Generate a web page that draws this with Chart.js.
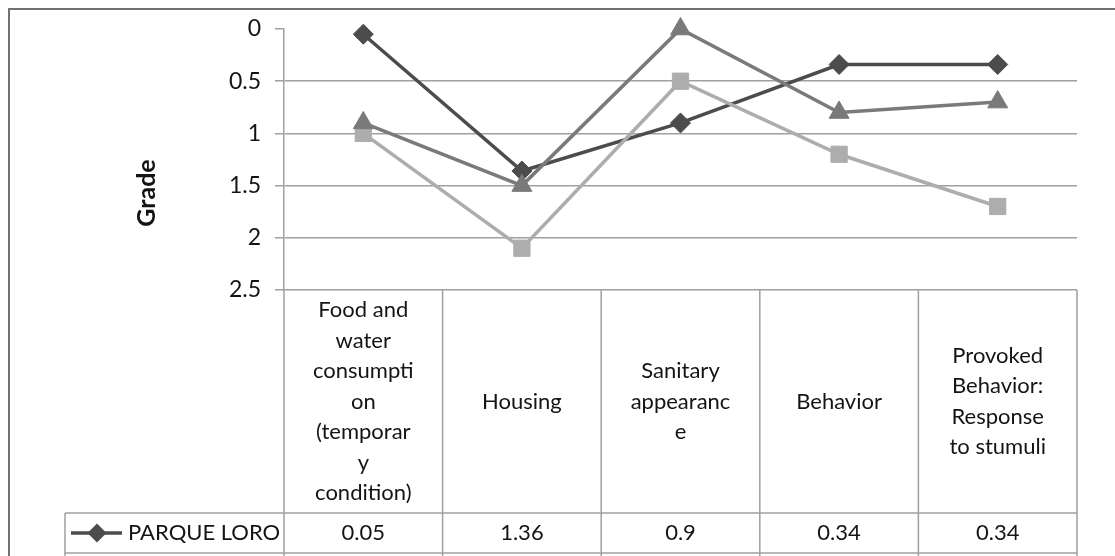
<!DOCTYPE html>
<html>
<head>
<meta charset="utf-8">
<script src="https://cdn.jsdelivr.net/npm/chart.js@4/dist/chart.umd.min.js"></script>
<style>
  html, body { margin: 0; padding: 0; background: #ffffff; }
  #wrap { width: 1115px; height: 556px; }
  canvas { display: block; }
</style>
</head>
<body>
<div id="wrap"><canvas id="chart" width="1115" height="556"></canvas></div>
<script>
// Category labels, already wrapped the way the data table shows them
const categories = [
  ['Food and', 'water', 'consumpti', 'on', '(temporar', 'y', 'condition)'],
  ['Housing'],
  ['Sanitary', 'appearanc', 'e'],
  ['Behavior'],
  ['Provoked', 'Behavior:', 'Response', 'to stumuli']
];

// Grades per site (lower is better, axis is reversed)
const parqueLoro = [0.05, 1.36, 0.9, 0.34, 0.34];
const series2 = [1.0, 2.1, 0.5, 1.2, 1.7];
const series3 = [0.9, 1.5, 0.0, 0.8, 0.7];

const seriesNames = ['PARQUE LORO', 'Series 2', 'Series 3'];
const yTicks = [0, 0.5, 1, 1.5, 2, 2.5];
const yTickLabels = ['0', '0.5', '1', '1.5', '2', '2.5'];
const yTitle = 'Grade';

const FONT = 'Lato, "Open Sans", sans-serif';
const TEXT = '#141414';
const RULE = '#a0a0a0';

// Page frame plus the "Grade" title
const framePlugin = {
  id: 'frame',
  beforeDraw(chart) {
    const ctx = chart.ctx;
    ctx.save();
    ctx.fillStyle = '#ffffff';
    ctx.fillRect(0, 0, chart.width, chart.height);
    ctx.strokeStyle = '#727272';
    ctx.lineWidth = 2;
    ctx.strokeRect(9, 9, chart.width + 50, chart.height + 50);
    ctx.restore();
  },
  afterDraw(chart) {
    const ctx = chart.ctx;
    ctx.save();
    ctx.translate(147, 193);
    ctx.rotate(-Math.PI / 2);
    ctx.fillStyle = TEXT;
    ctx.font = 'bold 25px ' + FONT;
    ctx.textAlign = 'center';
    ctx.textBaseline = 'middle';
    ctx.fillText(yTitle, 0, 0);
    ctx.restore();
  }
};

// Data table under the plot, columns lined up with the category scale
const tablePlugin = {
  id: 'dataTable',
  afterDraw(chart) {
    const ctx = chart.ctx;
    const xs = chart.scales.x;
    const ca = chart.chartArea;
    const n = categories.length;
    const headerH = 223;
    const rowH = 40;
    const labelLeft = 65;
    const bottom = chart.height + 5;

    const bounds = [ca.left];
    for (let i = 0; i < n - 1; i++) {
      bounds.push((xs.getPixelForValue(i) + xs.getPixelForValue(i + 1)) / 2);
    }
    bounds.push(ca.right);

    const headTop = ca.bottom;
    const headBottom = headTop + headerH;

    ctx.save();
    ctx.strokeStyle = RULE;
    ctx.lineWidth = 1.5;
    ctx.beginPath();
    bounds.forEach(b => { ctx.moveTo(b, headTop); ctx.lineTo(b, bottom); });
    ctx.moveTo(labelLeft, headBottom); ctx.lineTo(labelLeft, bottom);
    for (let r = 0; r <= chart.data.datasets.length; r++) {
      const y = headBottom + r * rowH;
      ctx.moveTo(labelLeft, y); ctx.lineTo(ca.right, y);
    }
    ctx.stroke();

    // header cells
    ctx.fillStyle = TEXT;
    ctx.font = '22px ' + FONT;
    ctx.textAlign = 'center';
    ctx.textBaseline = 'middle';
    const lineH = 30.5;
    categories.forEach((lines, i) => {
      const cx = (bounds[i] + bounds[i + 1]) / 2;
      const y0 = (headTop + headBottom) / 2 - (lines.length - 1) * lineH / 2;
      lines.forEach((t, k) => ctx.fillText(t, cx, y0 + k * lineH));
    });

    // value rows with legend keys
    chart.data.datasets.forEach((ds, r) => {
      const cy = headBottom + r * rowH + rowH / 2;
      ctx.strokeStyle = ds.borderColor;
      ctx.lineWidth = 3.5;
      ctx.beginPath();
      ctx.moveTo(71, cy); ctx.lineTo(122, cy);
      ctx.stroke();
      Chart.helpers.drawPoint(ctx, {
        pointStyle: ds.pointStyle, radius: 7, borderWidth: 1
      }, 97, cy);
      ctx.fillStyle = ds.borderColor;
      ctx.fill();
      ctx.fillStyle = TEXT;
      ctx.textAlign = 'left';
      ctx.fillText(ds.label, 128, cy);
      ctx.textAlign = 'center';
      ds.data.forEach((v, i) => {
        ctx.fillText(String(v), (bounds[i] + bounds[i + 1]) / 2, cy);
      });
    });
    ctx.restore();
  }
};

const lineSet = (label, data, color, style, radius, order) => ({
  label, data, order,
  clip: false,
  borderColor: color,
  backgroundColor: color,
  pointBackgroundColor: color,
  pointBorderColor: color,
  pointBorderWidth: 1,
  borderWidth: 3.5,
  pointStyle: style,
  pointRadius: radius,
  pointHoverRadius: radius,
  tension: 0
});

new Chart(document.getElementById('chart'), {
  type: 'line',
  data: {
    labels: categories,
    datasets: [
      lineSet(seriesNames[0], parqueLoro, '#4c4c4c', 'rectRot', 10, 2),
      lineSet(seriesNames[1], series2, '#adadad', 'rect', 11.5, 1),
      lineSet(seriesNames[2], series3, '#7a7a7a', 'triangle', 11.5, 0)
    ]
  },
  options: {
    responsive: false,
    animation: false,
    events: [],
    layout: { padding: { top: 29, right: 38, bottom: 266, left: 0 } },
    plugins: { legend: { display: false }, tooltip: { enabled: false } },
    scales: {
      x: { type: 'category', offset: true, display: false },
      y: {
        reverse: true,
        min: 0,
        max: 2.5,
        afterBuildTicks: s => { s.ticks = yTicks.map(v => ({ value: v })); },
        afterFit: s => { s.width = 284; },
        border: { display: true, color: RULE, width: 1.5 },
        grid: {
          color: c => (c.tick && c.tick.value === 0 ? 'rgba(0,0,0,0)' : RULE),
          tickColor: RULE,
          tickLength: 9,
          lineWidth: 1.5
        },
        ticks: {
          color: TEXT,
          font: { family: FONT, size: 23 },
          padding: 14,
          callback: (v, i) => yTickLabels[i]
        }
      }
    }
  },
  plugins: [framePlugin, tablePlugin]
});
</script>
</body>
</html>
